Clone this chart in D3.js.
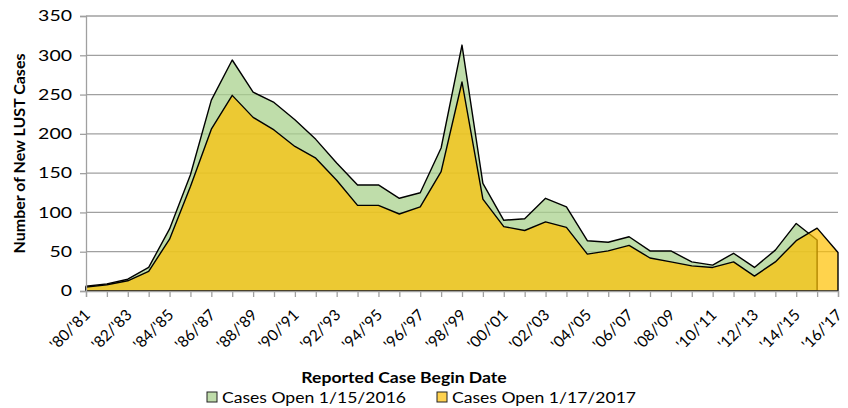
<!DOCTYPE html>
<html>
<head>
<meta charset="utf-8">
<script src="https://cdn.jsdelivr.net/npm/d3@7"></script>
<style>
  body { margin: 0; background: #fff; }
  text { font-family: Lato, "Open Sans", sans-serif; fill: #000; }
</style>
</head>
<body>
<div id="chart"></div>
<script>
// reporting years, one per point
const years = ["'80/'81","'81/'82","'82/'83","'83/'84","'84/'85","'85/'86","'86/'87","'87/'88","'88/'89","'89/'90",
  "'90/'91","'91/'92","'92/'93","'93/'94","'94/'95","'95/'96","'96/'97","'97/'98","'98/'99","'99/'00",
  "'00/'01","'01/'02","'02/'03","'03/'04","'04/'05","'05/'06","'06/'07","'07/'08","'08/'09","'09/'10",
  "'10/'11","'11/'12","'12/'13","'13/'14","'14/'15","'15/'16","'16/'17"];

// Cases Open 1/15/2016 (stops at '15/'16)
const open2016 = [6, 9, 15, 30, 79, 148, 243, 294, 253, 240,
  218, 193, 163, 135, 135, 118, 125, 182, 313, 137,
  90, 92, 118, 107, 64, 62, 69, 51, 51, 37,
  33, 48, 30, 52, 86, 65];

// Cases Open 1/17/2017
const open2017 = [5, 8, 13, 25, 66, 133, 206, 249, 221, 205,
  184, 169, 141, 109, 109, 98, 107, 152, 266, 117,
  82, 77, 88, 81, 47, 51, 58, 42, 37, 32,
  30, 37, 19, 37, 64, 80, 49];

const yTicks = [0, 50, 100, 150, 200, 250, 300, 350];
const seriesNames = ["Cases Open 1/15/2016", "Cases Open 1/17/2017"];

const width = 848, height = 408;
const margin = {top: 16, right: 10, bottom: 117, left: 86};

// the source picture is a bit stretched sideways, so text gets widened
const stretch = 1.1;

const svg = d3.select("#chart").append("svg")
  .attr("width", width)
  .attr("height", height);

const x = d3.scalePoint()
  .domain(years)
  .range([margin.left, 838]);

const y = d3.scaleLinear()
  .domain([0, 350])
  .range([height - margin.bottom, margin.top]);

// gridlines
svg.append("g")
  .selectAll("line")
  .data(yTicks.slice(1))
  .join("line")
  .attr("x1", margin.left)
  .attr("x2", 838)
  .attr("y1", d => y(d))
  .attr("y2", d => y(d))
  .attr("stroke", "#a0a0a0")
  .attr("stroke-width", 1.3);

// areas
const area = d3.area()
  .x((d, i) => x(years[i]))
  .y0(y(0))
  .y1(d => y(d));

svg.append("path")
  .datum(open2016)
  .attr("d", area)
  .attr("fill", "#a9d18e")
  .attr("fill-opacity", 0.75)
  .attr("stroke", "#000")
  .attr("stroke-width", 1.4)
  .attr("stroke-linejoin", "round");

svg.append("path")
  .datum(open2017)
  .attr("d", area)
  .attr("fill", "#ffc000")
  .attr("fill-opacity", 0.7)
  .attr("stroke", "#000")
  .attr("stroke-width", 1.4)
  .attr("stroke-linejoin", "round");

// y axis
const yAxis = svg.append("g")
  .attr("transform", "translate(" + margin.left + ",0)")
  .call(d3.axisLeft(y).tickValues(yTicks).tickSize(6).tickPadding(8));
yAxis.select(".domain").attr("stroke", "#a0a0a0").attr("stroke-width", 1.3);
yAxis.selectAll(".tick line").attr("stroke", "#a0a0a0").attr("stroke-width", 1.3);
yAxis.selectAll(".tick text")
  .attr("x", -14 / 1.3)
  .attr("transform", "scale(1.3,1)")
  .style("font-size", "15px")
  .style("font-family", "Lato, sans-serif")
  .attr("fill", "#000");

// x axis
const xAxis = svg.append("g")
  .attr("transform", "translate(0," + y(0) + ")")
  .call(d3.axisBottom(x).tickSize(6).tickFormat(""));
xAxis.select(".domain").attr("stroke", "#a0a0a0").attr("stroke-width", 1.3);
xAxis.selectAll(".tick line").attr("stroke", "#a0a0a0").attr("stroke-width", 1.3);

svg.append("g")
  .selectAll("text")
  .data(years.filter((d, i) => i % 2 === 0))
  .join("text")
  .attr("transform", d => "translate(" + (x(d) + 5) + "," + (y(0) + 25) + ") rotate(-45)")
  .attr("text-anchor", "end")
  .style("font-size", "15.5px")
  .text(d => d);

// axis titles
svg.append("text")
  .attr("transform", "translate(25," + ((y(0) + y(350)) / 2) + ") rotate(-90)")
  .attr("text-anchor", "middle")
  .style("font-size", "16px")
  .style("font-weight", "bold")
  .text("Number of New LUST Cases");

svg.append("text")
  .attr("x", 404 / stretch)
  .attr("y", 383)
  .attr("transform", "scale(" + stretch + ",1)")
  .attr("text-anchor", "middle")
  .style("font-size", "16px")
  .style("font-weight", "bold")
  .text("Reported Case Begin Date");

// legend
const legendColors = ["#bfdcaa", "#ffd24f"];
const legendX = [207, 437];
const legend = svg.append("g")
  .selectAll("g")
  .data(seriesNames)
  .join("g")
  .attr("transform", (d, i) => "translate(" + legendX[i] + ",392)");

legend.append("rect")
  .attr("width", 10)
  .attr("height", 10)
  .attr("fill", (d, i) => legendColors[i])
  .attr("stroke", "#222")
  .attr("stroke-width", 1);

legend.append("text")
  .attr("x", 15 / stretch)
  .attr("y", 11)
  .attr("transform", "scale(" + stretch + ",1)")
  .style("font-size", "16px")
  .text(d => d);
</script>
</body>
</html>
